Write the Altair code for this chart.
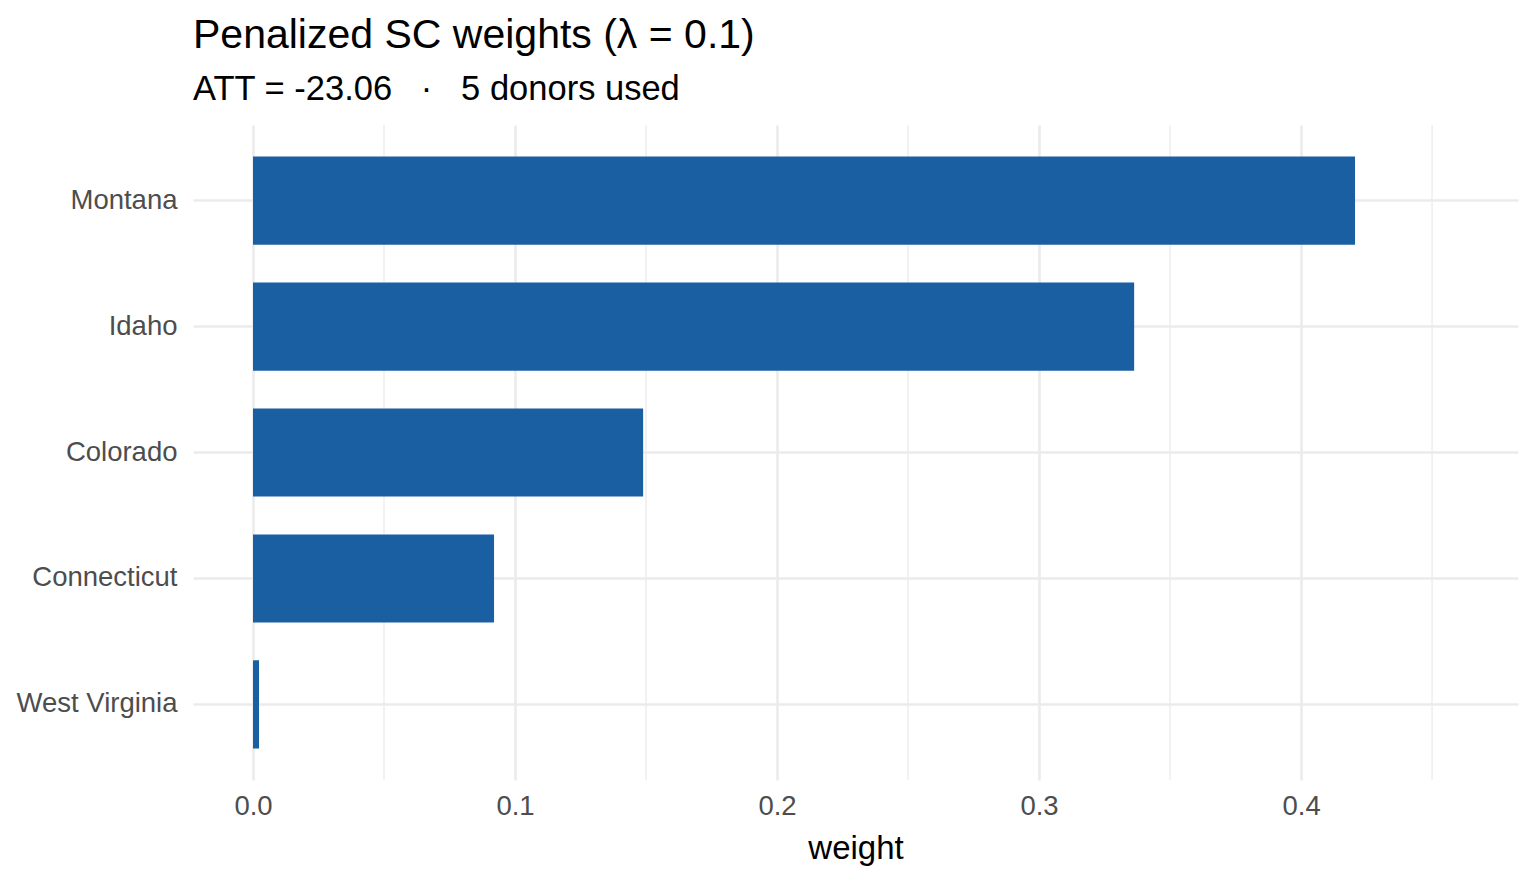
import altair as alt
import pandas as pd

states = ["Montana", "Idaho", "Colorado", "Connecticut", "West Virginia"]
weights = [0.4206, 0.3363, 0.1489, 0.0920, 0.0023]
major_breaks = [0.0, 0.1, 0.2, 0.3, 0.4]
minor_breaks = [0.05, 0.15, 0.25, 0.35, 0.45]

df = pd.DataFrame({"state": states, "weight": weights})
minor_df = pd.DataFrame({"v": minor_breaks})

FONT = "Liberation Sans"
GRID = "#EBEBEB"
NB = "\u00a0"

xscale = alt.Scale(domain=[-0.0229, 0.4828], nice=False, zero=False)

xaxis = alt.Axis(
    values=major_breaks,
    format=".1f",
    grid=True,
    gridColor=GRID,
    gridWidth=2.6,
    domain=False,
    ticks=False,
    labelFont=FONT,
    labelFontSize=27.5,
    labelColor="#4D4D4D",
    labelPadding=12,
    titleFont=FONT,
    titleFontSize=33,
    titleFontWeight="normal",
    titleColor="#000000",
    titlePadding=13,
)

minor = alt.Chart(minor_df).mark_rule(color=GRID, strokeWidth=1.3).encode(
    x=alt.X("v:Q", scale=xscale, title="weight", axis=xaxis)
)

bars = alt.Chart(df).mark_bar(color="#1B5FA3").encode(
    x=alt.X("weight:Q", scale=xscale, title="weight", axis=xaxis),
    y=alt.Y(
        "state:N",
        sort=states,
        title=None,
        scale=alt.Scale(paddingInner=0.3, paddingOuter=0.25),
        axis=alt.Axis(
            grid=True,
            gridColor=GRID,
            gridWidth=2.6,
            domain=False,
            ticks=False,
            labelFont=FONT,
            labelFontSize=27.5,
            labelColor="#4D4D4D",
            labelPadding=16,
        ),
    ),
)

subtitle = "ATT = -23.06" + NB * 3 + "·" + NB * 3 + "5 donors used"

chart = (
    alt.layer(minor, bars)
    .properties(
        width=1325,
        height=655,
        autosize=alt.AutoSizeParams(type="none"),
        padding={"left": 185, "top": 117, "right": 10, "bottom": 95},
        title=alt.TitleParams(
            text="Penalized SC weights (λ = 0.1)",
            subtitle=subtitle,
            anchor="start",
            frame="group",
            font=FONT,
            fontSize=41,
            fontWeight="normal",
            color="#000000",
            subtitleFont=FONT,
            subtitleFontSize=34.5,
            subtitleColor="#000000",
            subtitlePadding=16,
            offset=17,
        ),
    )
    .configure_view(stroke=None)
)

chart.save("out.html", embed_options={"renderer": "svg", "actions": False})
